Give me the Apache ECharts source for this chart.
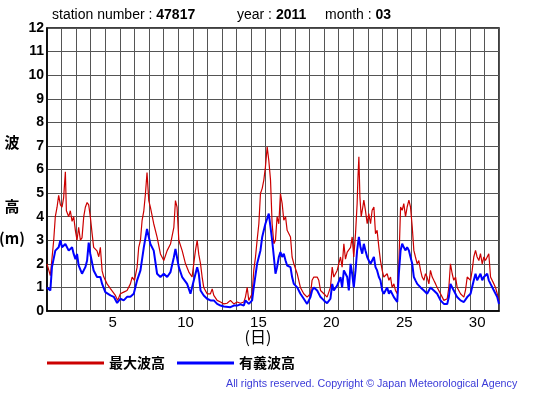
<!DOCTYPE html>
<html><head><meta charset="utf-8">
<script src="https://cdn.jsdelivr.net/npm/echarts@6/dist/echarts.min.js"></script>
<style>html,body{margin:0;padding:0;background:#fff}#c{width:555px;height:395px}</style>
</head><body><div id="c"></div>
<script>
// Time in days since 1 March 00:00, wave heights in metres
const maxDay = [0.00,0.23,0.46,0.57,0.69,0.80,0.92,1.03,1.14,1.26,1.33,1.49,1.60,1.72,1.83,1.95,2.06,2.17,2.29,2.40,2.52,2.63,2.75,2.86,2.97,3.09,3.20,3.43,3.55,3.66,3.78,3.89,4.12,4.35,4.46,4.69,4.85,5.03,5.26,5.49,5.72,5.84,6.00,6.18,6.29,6.41,6.52,6.64,6.75,6.86,6.98,7.09,7.32,7.55,7.78,8.01,8.24,8.47,8.70,8.81,8.92,9.04,9.27,9.50,9.73,9.95,10.18,10.30,10.41,10.53,10.64,10.75,10.98,11.21,11.33,11.44,11.67,11.90,12.13,12.35,12.58,12.81,13.04,13.27,13.50,13.61,13.73,13.84,13.95,14.07,14.18,14.30,14.41,14.53,14.64,14.76,14.87,14.98,15.10,15.21,15.33,15.44,15.56,15.67,15.78,15.90,16.01,16.13,16.24,16.36,16.47,16.70,16.81,16.93,17.16,17.38,17.61,17.84,18.07,18.18,18.30,18.53,18.64,18.76,18.99,19.21,19.44,19.56,19.67,19.90,20.13,20.24,20.36,20.47,20.59,20.70,20.82,20.93,21.04,21.16,21.27,21.32,21.39,21.46,21.55,21.66,21.73,21.84,21.96,22.07,22.19,22.30,22.42,22.53,22.64,22.76,22.87,22.99,23.10,23.33,23.45,23.56,23.67,23.79,23.90,24.02,24.13,24.25,24.36,24.47,24.59,24.70,24.82,24.93,25.05,25.16,25.27,25.39,25.50,25.62,25.73,25.85,25.96,26.07,26.19,26.30,26.42,26.53,26.65,26.76,26.99,27.22,27.45,27.56,27.67,27.79,27.90,28.02,28.13,28.36,28.59,28.70,28.82,28.93,29.05,29.16,29.27,29.39,29.50,29.62,29.73,29.85,29.96,30.07,30.19,30.30,30.42,30.53,30.65,30.76,30.88,31.00];
const maxHeight = [2.0,1.5,3.0,4.0,4.4,4.9,4.5,4.4,4.8,5.9,4.25,4.0,4.25,3.8,4.0,3.4,3.0,3.55,3.0,3.1,4.0,4.4,4.6,4.5,4.0,3.3,2.7,2.55,2.3,2.7,1.7,1.45,1.15,0.95,0.87,0.66,0.45,0.73,0.8,0.87,1.15,1.44,1.3,1.86,2.7,3.0,3.83,4.25,4.96,5.87,4.68,4.4,3.7,3.13,2.42,2.14,2.56,2.84,3.55,4.68,4.4,3.0,2.56,2.0,1.65,1.44,2.56,3.0,2.4,2.0,1.44,1.0,0.73,0.73,0.94,0.66,0.45,0.38,0.3,0.33,0.45,0.3,0.38,0.33,0.38,0.59,1.0,0.45,0.38,0.73,1.72,2.29,3.0,3.7,4.98,5.2,5.55,6.1,6.96,6.4,5.55,3.7,2.85,3.0,4.0,3.7,4.98,4.55,3.85,4.0,3.42,3.14,2.29,2.0,1.58,1.0,0.73,0.59,0.73,1.3,1.44,1.44,1.3,0.87,0.73,0.59,1.0,1.86,1.44,1.72,2.29,1.86,2.85,2.2,2.5,2.5,2.7,3.14,2.29,3.28,4.55,5.55,6.54,4.84,4.0,4.41,4.7,4.27,3.7,4.13,3.7,4.27,4.41,3.28,3.42,2.7,2.14,1.72,1.44,1.58,1.3,1.44,1.0,1.15,0.87,0.73,2.0,4.41,4.27,4.55,4.0,4.41,4.7,4.41,3.56,2.57,2.29,2.0,2.14,1.72,1.44,1.3,1.58,1.44,1.15,1.72,1.44,1.3,1.15,1.0,0.73,0.45,0.52,1.0,2.0,1.58,1.3,1.44,1.0,0.73,0.59,0.87,1.44,1.44,1.3,1.72,2.29,2.57,2.29,2.14,2.43,2.0,2.29,2.14,2.29,2.43,1.44,1.44,1.15,1.0,0.73,0.45];
const sigDay = [0.00,0.11,0.23,0.34,0.57,0.80,0.92,1.03,1.26,1.49,1.72,1.83,1.95,2.06,2.17,2.40,2.63,2.75,2.86,2.97,3.20,3.43,3.66,3.78,4.00,4.35,4.58,4.81,5.03,5.26,5.49,5.72,5.95,6.18,6.41,6.64,6.86,7.09,7.32,7.55,7.78,8.01,8.24,8.47,8.70,8.81,9.04,9.27,9.61,9.84,10.07,10.30,10.41,10.53,10.75,10.98,11.21,11.44,11.67,11.90,12.13,12.58,12.81,13.04,13.27,13.50,13.61,13.73,13.84,13.95,14.07,14.18,14.41,14.64,14.76,14.87,14.98,15.10,15.21,15.33,15.44,15.56,15.67,15.78,15.90,16.01,16.13,16.24,16.36,16.47,16.70,16.81,16.93,17.16,17.38,17.61,17.84,17.96,18.07,18.18,18.30,18.41,18.53,18.76,18.99,19.21,19.44,19.56,19.67,19.90,20.13,20.24,20.36,20.59,20.70,20.82,20.93,21.04,21.16,21.27,21.39,21.50,21.62,21.73,21.84,21.96,22.07,22.19,22.30,22.42,22.53,22.64,22.76,22.87,22.99,23.10,23.33,23.45,23.56,23.79,24.02,24.13,24.25,24.36,24.47,24.59,24.70,24.82,24.93,25.05,25.16,25.27,25.39,25.62,25.85,26.07,26.19,26.30,26.53,26.76,26.99,27.22,27.45,27.56,27.67,27.79,27.90,28.13,28.36,28.59,28.82,29.05,29.27,29.39,29.50,29.73,29.85,29.96,30.19,30.30,30.42,30.65,30.88,31.00];
const sigHeight = [1.0,1.08,0.87,1.86,2.56,2.7,3.0,2.7,2.84,2.56,2.7,2.42,2.2,2.42,1.93,1.58,1.86,2.14,2.9,2.42,1.72,1.44,1.44,1.15,0.8,0.66,0.6,0.34,0.52,0.45,0.6,0.6,0.73,1.3,1.72,2.7,3.48,2.84,2.56,1.58,1.44,1.58,1.44,1.65,2.28,2.63,1.86,1.44,1.15,0.73,1.3,1.86,1.58,0.87,0.66,0.52,0.45,0.45,0.3,0.23,0.19,0.16,0.23,0.23,0.28,0.23,0.45,0.52,0.3,0.23,0.45,1.0,2.0,2.57,3.14,3.42,3.7,3.92,4.13,3.56,3.0,2.29,1.58,1.86,2.29,2.5,2.29,2.43,2.14,1.93,1.86,1.44,1.15,1.0,0.73,0.52,0.3,0.38,0.59,0.87,1.0,0.94,0.87,0.59,0.45,0.33,0.52,1.15,0.87,1.08,1.44,1.0,1.72,1.44,0.87,2.0,1.58,1.0,1.72,2.57,3.14,2.7,2.43,2.85,2.57,2.29,2.14,2.0,2.14,2.29,1.86,1.72,1.44,1.3,0.87,0.73,1.0,0.73,0.87,0.59,0.38,1.58,2.57,2.85,2.7,2.57,2.7,2.57,2.29,2.0,1.44,1.3,1.15,1.0,0.87,0.73,0.87,1.0,0.87,0.73,0.45,0.3,0.3,0.59,1.15,1.0,0.87,0.59,0.45,0.38,0.59,0.73,1.3,1.58,1.3,1.58,1.3,1.44,1.58,1.3,1.15,0.87,0.59,0.3];
const dayLabels = [5,10,15,20,25,30];
const yTicks = [0,1,2,3,4,5,6,7,8,9,10,11,12];
const seriesNames = ['最大波高','有義波高'];

const chart = echarts.init(document.getElementById('c'), null, {renderer:'canvas'});
const jp = '"Noto Sans CJK JP", sans-serif';
const lat = '"Liberation Sans", Arial, sans-serif';
chart.setOption({
  animation:false,
  backgroundColor:'#fff',
  grid:{left:47, right:56, top:28, bottom:84, show:true, borderColor:'#000', borderWidth:1.5, backgroundColor:'transparent'},
  xAxis:{
    type:'value', min:0, max:31, interval:1,
    axisLine:{show:true, lineStyle:{color:'#000', width:1.5}},
    axisTick:{show:false},
    splitLine:{show:true, lineStyle:{color:'#555', width:1}},
    axisLabel:{customValues:dayLabels.map(d=>d-0.5), formatter:v=>String(Math.round(v+0.5)), color:'#000', fontSize:15, fontFamily:lat, margin:4}
  },
  yAxis:{
    type:'value', min:yTicks[0], max:yTicks[yTicks.length-1], interval:1,
    axisLine:{show:true, lineStyle:{color:'#000', width:1.5}},
    axisTick:{show:false},
    splitLine:{show:true, lineStyle:{color:'#555', width:1}},
    axisLabel:{color:'#000', fontSize:14, fontWeight:'bold', fontFamily:lat, margin:3}
  },
  legend:{
    left:42, top:351, itemWidth:57, itemHeight:3, itemGap:12, icon:'rect',
    data:seriesNames,
    textStyle:{fontSize:14, fontWeight:'bold', color:'#000', fontFamily:jp, padding:[0,0,0,0]}
  },
  series:[
    {name:seriesNames[0], type:'line', showSymbol:false, data:maxDay.map((d,i)=>[d,maxHeight[i]]), lineStyle:{color:'#cc0000', width:1.2}, itemStyle:{color:'#cc0000'}},
    {name:seriesNames[1], type:'line', showSymbol:false, data:sigDay.map((d,i)=>[d,sigHeight[i]]), lineStyle:{color:'#0000ff', width:2}, itemStyle:{color:'#0000ff'}}
  ],
  graphic:[
    {type:'text', left:52, top:8, style:{text:'station number : {b|47817}', fontSize:14, fontFamily:lat, fill:'#000', rich:{b:{fontSize:14, fontFamily:lat, fontWeight:'bold'}}}},
    {type:'text', left:237, top:8, style:{text:'year : {b|2011}', fontSize:14, fontFamily:lat, fill:'#000', rich:{b:{fontSize:14, fontFamily:lat, fontWeight:'bold'}}}},
    {type:'text', left:325, top:8, style:{text:'month : {b|03}', fontSize:14, fontFamily:lat, fill:'#000', rich:{b:{fontSize:14, fontFamily:lat, fontWeight:'bold'}}}},
    {type:'text', x:12, y:142, style:{text:'波', fontSize:15, fontWeight:'bold', fontFamily:jp, fill:'#000', align:'center', verticalAlign:'middle'}},
    {type:'text', x:12, y:206, style:{text:'高', fontSize:15, fontWeight:'bold', fontFamily:jp, fill:'#000', align:'center', verticalAlign:'middle'}},
    {type:'text', x:12, y:238, style:{text:'(m)', fontSize:15, fontWeight:'bold', fontFamily:jp, fill:'#000', align:'center', verticalAlign:'middle'}},
    {type:'text', x:258, y:337, style:{text:'(日)', fontSize:16, fontFamily:jp, fill:'#000', align:'center', verticalAlign:'middle'}},
    {type:'text', x:226, y:384, style:{text:'All rights reserved. Copyright © Japan Meteorological Agency', fontSize:10.7, fontFamily:lat, fill:'#3a3ad8', verticalAlign:'middle'}}
  ]
});
</script></body></html>
